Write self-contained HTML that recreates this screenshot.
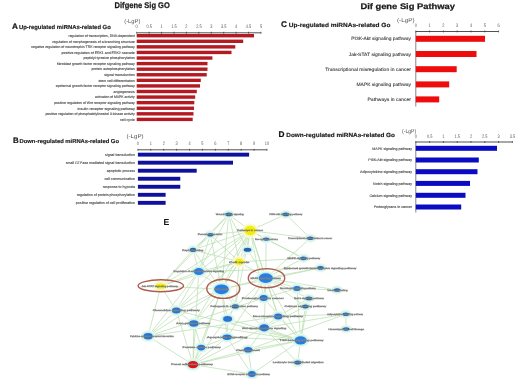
<!DOCTYPE html>
<html><head><meta charset="utf-8"><style>
html,body{margin:0;padding:0;background:#fff;overflow:hidden;width:520px;height:379px;}
svg{display:block;font-family:"Liberation Sans", sans-serif;filter:blur(0.35px);text-rendering:geometricPrecision;}
</style></head><body>
<svg width="520" height="379" viewBox="0 0 520 379">
<rect width="520" height="379" fill="#fff"/>
<text x="114.60" y="8.40" font-size="8.3" text-anchor="start" font-weight="bold" fill="#1a1a1a" textLength="55.20" lengthAdjust="spacingAndGlyphs" stroke="#1a1a1a" stroke-width="0.25">Difgene Sig GO</text>
<text x="360.40" y="9.20" font-size="8.1" text-anchor="start" font-weight="bold" fill="#1a1a1a" textLength="94.60" lengthAdjust="spacingAndGlyphs" stroke="#1a1a1a" stroke-width="0.25">Dif gene Sig Pathway</text>
<text x="12.00" y="28.80" font-size="8.184000000000001" text-anchor="start" font-weight="bold" fill="#111" stroke="#111" stroke-width="0.2">A</text>
<text x="18.90" y="28.70" font-size="5.8500000000000005" text-anchor="start" font-weight="bold" fill="#1a1a1a" textLength="91.90" lengthAdjust="spacingAndGlyphs" stroke="#1a1a1a" stroke-width="0.15">Up-regulated miRNAs-related Go</text>
<text x="124.20" y="22.80" font-size="5.6" text-anchor="start" fill="#555" textLength="16.20" lengthAdjust="spacingAndGlyphs">(-LgP)</text>
<line x1="136.70" y1="32.80" x2="261.00" y2="32.80" stroke="#333" stroke-width="0.85"/>
<line x1="136.70" y1="31.80" x2="136.70" y2="33.70" stroke="#333" stroke-width="0.7"/>
<text x="136.70" y="28.40" font-size="5.0" text-anchor="middle" fill="#5a5a5a" textLength="2.17" lengthAdjust="spacingAndGlyphs">0</text>
<line x1="149.13" y1="31.80" x2="149.13" y2="33.70" stroke="#333" stroke-width="0.7"/>
<text x="149.13" y="28.40" font-size="5.0" text-anchor="middle" fill="#5a5a5a" textLength="5.42" lengthAdjust="spacingAndGlyphs">0.5</text>
<line x1="161.56" y1="31.80" x2="161.56" y2="33.70" stroke="#333" stroke-width="0.7"/>
<text x="161.56" y="28.40" font-size="5.0" text-anchor="middle" fill="#5a5a5a" textLength="2.17" lengthAdjust="spacingAndGlyphs">1</text>
<line x1="173.99" y1="31.80" x2="173.99" y2="33.70" stroke="#333" stroke-width="0.7"/>
<text x="173.99" y="28.40" font-size="5.0" text-anchor="middle" fill="#5a5a5a" textLength="5.42" lengthAdjust="spacingAndGlyphs">1.5</text>
<line x1="186.42" y1="31.80" x2="186.42" y2="33.70" stroke="#333" stroke-width="0.7"/>
<text x="186.42" y="28.40" font-size="5.0" text-anchor="middle" fill="#5a5a5a" textLength="2.17" lengthAdjust="spacingAndGlyphs">2</text>
<line x1="198.85" y1="31.80" x2="198.85" y2="33.70" stroke="#333" stroke-width="0.7"/>
<text x="198.85" y="28.40" font-size="5.0" text-anchor="middle" fill="#5a5a5a" textLength="5.42" lengthAdjust="spacingAndGlyphs">2.5</text>
<line x1="211.28" y1="31.80" x2="211.28" y2="33.70" stroke="#333" stroke-width="0.7"/>
<text x="211.28" y="28.40" font-size="5.0" text-anchor="middle" fill="#5a5a5a" textLength="2.17" lengthAdjust="spacingAndGlyphs">3</text>
<line x1="223.71" y1="31.80" x2="223.71" y2="33.70" stroke="#333" stroke-width="0.7"/>
<text x="223.71" y="28.40" font-size="5.0" text-anchor="middle" fill="#5a5a5a" textLength="5.42" lengthAdjust="spacingAndGlyphs">3.5</text>
<line x1="236.14" y1="31.80" x2="236.14" y2="33.70" stroke="#333" stroke-width="0.7"/>
<text x="236.14" y="28.40" font-size="5.0" text-anchor="middle" fill="#5a5a5a" textLength="2.17" lengthAdjust="spacingAndGlyphs">4</text>
<line x1="248.57" y1="31.80" x2="248.57" y2="33.70" stroke="#333" stroke-width="0.7"/>
<text x="248.57" y="28.40" font-size="5.0" text-anchor="middle" fill="#5a5a5a" textLength="5.42" lengthAdjust="spacingAndGlyphs">4.5</text>
<line x1="261.00" y1="31.80" x2="261.00" y2="33.70" stroke="#333" stroke-width="0.7"/>
<text x="261.00" y="28.40" font-size="5.0" text-anchor="middle" fill="#5a5a5a" textLength="2.17" lengthAdjust="spacingAndGlyphs">5</text>
<rect x="136.70" y="34.00" width="117.30" height="3.40" fill="#b41a22"/>
<text x="134.80" y="36.97" font-size="3.52" text-anchor="end" fill="#555" textLength="66.30" lengthAdjust="spacingAndGlyphs" stroke="#555" stroke-width="0.13">regulation of transcription, DNA-dependent</text>
<rect x="136.70" y="39.58" width="106.50" height="3.40" fill="#b41a22"/>
<text x="134.80" y="42.55" font-size="3.52" text-anchor="end" fill="#555" textLength="82.50" lengthAdjust="spacingAndGlyphs" stroke="#555" stroke-width="0.13">regulation of morphogenesis of a branching structure</text>
<rect x="136.70" y="45.16" width="98.60" height="3.40" fill="#b41a22"/>
<text x="134.80" y="48.13" font-size="3.52" text-anchor="end" fill="#555" textLength="103.70" lengthAdjust="spacingAndGlyphs" stroke="#555" stroke-width="0.13">negative regulation of neurotrophin TRK receptor signaling pathway</text>
<rect x="136.70" y="50.74" width="94.80" height="3.40" fill="#b41a22"/>
<text x="134.80" y="53.71" font-size="3.52" text-anchor="end" fill="#555" textLength="73.30" lengthAdjust="spacingAndGlyphs" stroke="#555" stroke-width="0.13">positive regulation of ERK1 and ERK2 cascade</text>
<rect x="136.70" y="56.32" width="75.70" height="3.40" fill="#b41a22"/>
<text x="134.80" y="59.29" font-size="3.52" text-anchor="end" fill="#555" textLength="51.30" lengthAdjust="spacingAndGlyphs" stroke="#555" stroke-width="0.13">peptidyl-tyrosine phosphorylation</text>
<rect x="136.70" y="61.90" width="70.80" height="3.40" fill="#b41a22"/>
<text x="134.80" y="64.87" font-size="3.52" text-anchor="end" fill="#555" textLength="77.90" lengthAdjust="spacingAndGlyphs" stroke="#555" stroke-width="0.13">fibroblast growth factor receptor signaling pathway</text>
<rect x="136.70" y="67.48" width="70.80" height="3.40" fill="#b41a22"/>
<text x="134.80" y="70.45" font-size="3.52" text-anchor="end" fill="#555" textLength="43.30" lengthAdjust="spacingAndGlyphs" stroke="#555" stroke-width="0.13">protein autophosphorylation</text>
<rect x="136.70" y="73.06" width="70.00" height="3.40" fill="#b41a22"/>
<text x="134.80" y="76.03" font-size="3.52" text-anchor="end" fill="#555" textLength="30.60" lengthAdjust="spacingAndGlyphs" stroke="#555" stroke-width="0.13">signal transduction</text>
<rect x="136.70" y="78.64" width="64.10" height="3.40" fill="#b41a22"/>
<text x="134.80" y="81.61" font-size="3.52" text-anchor="end" fill="#555" textLength="36.30" lengthAdjust="spacingAndGlyphs" stroke="#555" stroke-width="0.13">stem cell differentiation</text>
<rect x="136.70" y="84.22" width="63.30" height="3.40" fill="#b41a22"/>
<text x="134.80" y="87.19" font-size="3.52" text-anchor="end" fill="#555" textLength="79.00" lengthAdjust="spacingAndGlyphs" stroke="#555" stroke-width="0.13">epidermal growth factor receptor signaling pathway</text>
<rect x="136.70" y="89.80" width="60.10" height="3.40" fill="#b41a22"/>
<text x="134.80" y="92.77" font-size="3.52" text-anchor="end" fill="#555" textLength="21.30" lengthAdjust="spacingAndGlyphs" stroke="#555" stroke-width="0.13">angiogenesis</text>
<rect x="136.70" y="95.38" width="58.50" height="3.40" fill="#b41a22"/>
<text x="134.80" y="98.35" font-size="3.52" text-anchor="end" fill="#555" textLength="39.80" lengthAdjust="spacingAndGlyphs" stroke="#555" stroke-width="0.13">activation of MAPK activity</text>
<rect x="136.70" y="100.96" width="57.60" height="3.40" fill="#b41a22"/>
<text x="134.80" y="103.93" font-size="3.52" text-anchor="end" fill="#555" textLength="80.60" lengthAdjust="spacingAndGlyphs" stroke="#555" stroke-width="0.13">positive regulation of Wnt receptor signaling pathway</text>
<rect x="136.70" y="106.54" width="57.30" height="3.40" fill="#b41a22"/>
<text x="134.80" y="109.51" font-size="3.52" text-anchor="end" fill="#555" textLength="57.30" lengthAdjust="spacingAndGlyphs" stroke="#555" stroke-width="0.13">insulin receptor signaling pathway</text>
<rect x="136.70" y="112.12" width="56.80" height="3.40" fill="#b41a22"/>
<text x="134.80" y="115.09" font-size="3.52" text-anchor="end" fill="#555" textLength="89.40" lengthAdjust="spacingAndGlyphs" stroke="#555" stroke-width="0.13">positive regulation of phosphatidylinositol 3-kinase activity</text>
<rect x="136.70" y="117.70" width="56.00" height="3.40" fill="#b41a22"/>
<text x="134.80" y="120.67" font-size="3.52" text-anchor="end" fill="#555" textLength="14.80" lengthAdjust="spacingAndGlyphs" stroke="#555" stroke-width="0.13">cell cycle</text>
<text x="13.00" y="143.00" font-size="7.92" text-anchor="start" font-weight="bold" fill="#111" stroke="#111" stroke-width="0.2">B</text>
<text x="19.50" y="142.90" font-size="5.65" text-anchor="start" font-weight="bold" fill="#1a1a1a" textLength="99.50" lengthAdjust="spacingAndGlyphs" stroke="#1a1a1a" stroke-width="0.15">Down-regulated miRNAs-related Go</text>
<text x="126.50" y="138.30" font-size="5.6" text-anchor="start" fill="#555" textLength="17.10" lengthAdjust="spacingAndGlyphs">(-LgP)</text>
<line x1="137.90" y1="149.80" x2="267.00" y2="149.80" stroke="#333" stroke-width="0.85"/>
<line x1="137.90" y1="148.80" x2="137.90" y2="150.70" stroke="#333" stroke-width="0.7"/>
<text x="137.90" y="145.10" font-size="5.0" text-anchor="middle" fill="#5a5a5a" textLength="2.17" lengthAdjust="spacingAndGlyphs">0</text>
<line x1="150.81" y1="148.80" x2="150.81" y2="150.70" stroke="#333" stroke-width="0.7"/>
<text x="150.81" y="145.10" font-size="5.0" text-anchor="middle" fill="#5a5a5a" textLength="2.17" lengthAdjust="spacingAndGlyphs">1</text>
<line x1="163.72" y1="148.80" x2="163.72" y2="150.70" stroke="#333" stroke-width="0.7"/>
<text x="163.72" y="145.10" font-size="5.0" text-anchor="middle" fill="#5a5a5a" textLength="2.17" lengthAdjust="spacingAndGlyphs">2</text>
<line x1="176.63" y1="148.80" x2="176.63" y2="150.70" stroke="#333" stroke-width="0.7"/>
<text x="176.63" y="145.10" font-size="5.0" text-anchor="middle" fill="#5a5a5a" textLength="2.17" lengthAdjust="spacingAndGlyphs">3</text>
<line x1="189.54" y1="148.80" x2="189.54" y2="150.70" stroke="#333" stroke-width="0.7"/>
<text x="189.54" y="145.10" font-size="5.0" text-anchor="middle" fill="#5a5a5a" textLength="2.17" lengthAdjust="spacingAndGlyphs">4</text>
<line x1="202.45" y1="148.80" x2="202.45" y2="150.70" stroke="#333" stroke-width="0.7"/>
<text x="202.45" y="145.10" font-size="5.0" text-anchor="middle" fill="#5a5a5a" textLength="2.17" lengthAdjust="spacingAndGlyphs">5</text>
<line x1="215.36" y1="148.80" x2="215.36" y2="150.70" stroke="#333" stroke-width="0.7"/>
<text x="215.36" y="145.10" font-size="5.0" text-anchor="middle" fill="#5a5a5a" textLength="2.17" lengthAdjust="spacingAndGlyphs">6</text>
<line x1="228.27" y1="148.80" x2="228.27" y2="150.70" stroke="#333" stroke-width="0.7"/>
<text x="228.27" y="145.10" font-size="5.0" text-anchor="middle" fill="#5a5a5a" textLength="2.17" lengthAdjust="spacingAndGlyphs">7</text>
<line x1="241.18" y1="148.80" x2="241.18" y2="150.70" stroke="#333" stroke-width="0.7"/>
<text x="241.18" y="145.10" font-size="5.0" text-anchor="middle" fill="#5a5a5a" textLength="2.17" lengthAdjust="spacingAndGlyphs">8</text>
<line x1="254.09" y1="148.80" x2="254.09" y2="150.70" stroke="#333" stroke-width="0.7"/>
<text x="254.09" y="145.10" font-size="5.0" text-anchor="middle" fill="#5a5a5a" textLength="2.17" lengthAdjust="spacingAndGlyphs">9</text>
<line x1="267.00" y1="148.80" x2="267.00" y2="150.70" stroke="#333" stroke-width="0.7"/>
<text x="267.00" y="145.10" font-size="5.0" text-anchor="middle" fill="#5a5a5a" textLength="4.34" lengthAdjust="spacingAndGlyphs">10</text>
<rect x="137.90" y="152.70" width="111.20" height="3.90" fill="#10109e"/>
<text x="135.00" y="155.95" font-size="3.6" text-anchor="end" fill="#555" stroke="#555" stroke-width="0.13">signal transduction</text>
<rect x="137.90" y="160.73" width="95.10" height="3.90" fill="#10109e"/>
<text x="135.00" y="163.98" font-size="3.6" text-anchor="end" fill="#555" stroke="#555" stroke-width="0.13">small GTPase mediated signal transduction</text>
<rect x="137.90" y="168.76" width="58.80" height="3.90" fill="#10109e"/>
<text x="135.00" y="172.01" font-size="3.6" text-anchor="end" fill="#555" stroke="#555" stroke-width="0.13">apoptotic process</text>
<rect x="137.90" y="176.79" width="42.40" height="3.90" fill="#10109e"/>
<text x="135.00" y="180.04" font-size="3.6" text-anchor="end" fill="#555" stroke="#555" stroke-width="0.13">cell communication</text>
<rect x="137.90" y="184.82" width="42.40" height="3.90" fill="#10109e"/>
<text x="135.00" y="188.07" font-size="3.6" text-anchor="end" fill="#555" stroke="#555" stroke-width="0.13">response to hypoxia</text>
<rect x="137.90" y="192.85" width="27.70" height="3.90" fill="#10109e"/>
<text x="135.00" y="196.10" font-size="3.6" text-anchor="end" fill="#555" stroke="#555" stroke-width="0.13">regulation of protein phosphorylation</text>
<rect x="137.90" y="200.88" width="27.70" height="3.90" fill="#10109e"/>
<text x="135.00" y="204.13" font-size="3.6" text-anchor="end" fill="#555" stroke="#555" stroke-width="0.13">positive regulation of cell proliferation</text>
<text x="280.90" y="27.00" font-size="8.316" text-anchor="start" font-weight="bold" fill="#111" stroke="#111" stroke-width="0.2">C</text>
<text x="288.80" y="26.90" font-size="5.95" text-anchor="start" font-weight="bold" fill="#1a1a1a" textLength="101.60" lengthAdjust="spacingAndGlyphs" stroke="#1a1a1a" stroke-width="0.15">Up-regulated miRNAs-related Go</text>
<text x="397.00" y="21.80" font-size="5.6" text-anchor="start" fill="#555" textLength="17.50" lengthAdjust="spacingAndGlyphs">(-LgP)</text>
<line x1="415.80" y1="31.50" x2="498.60" y2="31.50" stroke="#333" stroke-width="0.85"/>
<line x1="415.80" y1="30.50" x2="415.80" y2="32.40" stroke="#333" stroke-width="0.7"/>
<text x="415.80" y="27.30" font-size="5.0" text-anchor="middle" fill="#5a5a5a" textLength="2.17" lengthAdjust="spacingAndGlyphs">0</text>
<line x1="429.60" y1="30.50" x2="429.60" y2="32.40" stroke="#333" stroke-width="0.7"/>
<text x="429.60" y="27.30" font-size="5.0" text-anchor="middle" fill="#5a5a5a" textLength="2.17" lengthAdjust="spacingAndGlyphs">1</text>
<line x1="443.40" y1="30.50" x2="443.40" y2="32.40" stroke="#333" stroke-width="0.7"/>
<text x="443.40" y="27.30" font-size="5.0" text-anchor="middle" fill="#5a5a5a" textLength="2.17" lengthAdjust="spacingAndGlyphs">2</text>
<line x1="457.20" y1="30.50" x2="457.20" y2="32.40" stroke="#333" stroke-width="0.7"/>
<text x="457.20" y="27.30" font-size="5.0" text-anchor="middle" fill="#5a5a5a" textLength="2.17" lengthAdjust="spacingAndGlyphs">3</text>
<line x1="471.00" y1="30.50" x2="471.00" y2="32.40" stroke="#333" stroke-width="0.7"/>
<text x="471.00" y="27.30" font-size="5.0" text-anchor="middle" fill="#5a5a5a" textLength="2.17" lengthAdjust="spacingAndGlyphs">4</text>
<line x1="484.80" y1="30.50" x2="484.80" y2="32.40" stroke="#333" stroke-width="0.7"/>
<text x="484.80" y="27.30" font-size="5.0" text-anchor="middle" fill="#5a5a5a" textLength="2.17" lengthAdjust="spacingAndGlyphs">5</text>
<line x1="498.60" y1="30.50" x2="498.60" y2="32.40" stroke="#333" stroke-width="0.7"/>
<text x="498.60" y="27.30" font-size="5.0" text-anchor="middle" fill="#5a5a5a" textLength="2.17" lengthAdjust="spacingAndGlyphs">6</text>
<line x1="415.80" y1="31.50" x2="415.80" y2="106.50" stroke="#333" stroke-width="0.6"/>
<rect x="415.80" y="35.80" width="69.20" height="6.00" fill="#ee0c0c"/>
<text x="411.00" y="40.46" font-size="4.6" text-anchor="end" fill="#3a3a3a" textLength="59.70" lengthAdjust="spacingAndGlyphs" stroke="#3a3a3a" stroke-width="0.1">PI3K-Akt signaling pathway</text>
<rect x="415.80" y="51.00" width="60.70" height="6.00" fill="#ee0c0c"/>
<text x="411.00" y="55.66" font-size="4.6" text-anchor="end" fill="#3a3a3a" textLength="62.30" lengthAdjust="spacingAndGlyphs" stroke="#3a3a3a" stroke-width="0.1">Jak-STAT signaling pathway</text>
<rect x="415.80" y="66.20" width="40.90" height="6.00" fill="#ee0c0c"/>
<text x="411.00" y="70.86" font-size="4.6" text-anchor="end" fill="#3a3a3a" textLength="85.80" lengthAdjust="spacingAndGlyphs" stroke="#3a3a3a" stroke-width="0.1">Transcriptional misregulation in cancer</text>
<rect x="415.80" y="81.40" width="33.40" height="6.00" fill="#ee0c0c"/>
<text x="411.00" y="86.06" font-size="4.6" text-anchor="end" fill="#3a3a3a" textLength="54.50" lengthAdjust="spacingAndGlyphs" stroke="#3a3a3a" stroke-width="0.1">MAPK signaling pathway</text>
<rect x="415.80" y="96.40" width="23.40" height="6.00" fill="#ee0c0c"/>
<text x="411.00" y="101.06" font-size="4.6" text-anchor="end" fill="#3a3a3a" textLength="43.50" lengthAdjust="spacingAndGlyphs" stroke="#3a3a3a" stroke-width="0.1">Pathways in cancer</text>
<text x="278.60" y="137.20" font-size="8.316" text-anchor="start" font-weight="bold" fill="#111" stroke="#111" stroke-width="0.2">D</text>
<text x="286.30" y="137.10" font-size="5.95" text-anchor="start" font-weight="bold" fill="#1a1a1a" textLength="108.70" lengthAdjust="spacingAndGlyphs" stroke="#1a1a1a" stroke-width="0.15">Down-regulated miRNAs-related Go</text>
<text x="402.00" y="132.80" font-size="5.6" text-anchor="start" fill="#555" textLength="14.20" lengthAdjust="spacingAndGlyphs">(-LgP)</text>
<line x1="415.80" y1="142.00" x2="512.40" y2="142.00" stroke="#333" stroke-width="0.85"/>
<line x1="415.80" y1="141.00" x2="415.80" y2="142.90" stroke="#333" stroke-width="0.7"/>
<text x="415.80" y="138.10" font-size="5.0" text-anchor="middle" fill="#5a5a5a" textLength="2.17" lengthAdjust="spacingAndGlyphs">0</text>
<line x1="429.60" y1="141.00" x2="429.60" y2="142.90" stroke="#333" stroke-width="0.7"/>
<text x="429.60" y="138.10" font-size="5.0" text-anchor="middle" fill="#5a5a5a" textLength="5.42" lengthAdjust="spacingAndGlyphs">0.5</text>
<line x1="443.40" y1="141.00" x2="443.40" y2="142.90" stroke="#333" stroke-width="0.7"/>
<text x="443.40" y="138.10" font-size="5.0" text-anchor="middle" fill="#5a5a5a" textLength="2.17" lengthAdjust="spacingAndGlyphs">1</text>
<line x1="457.20" y1="141.00" x2="457.20" y2="142.90" stroke="#333" stroke-width="0.7"/>
<text x="457.20" y="138.10" font-size="5.0" text-anchor="middle" fill="#5a5a5a" textLength="5.42" lengthAdjust="spacingAndGlyphs">1.5</text>
<line x1="471.00" y1="141.00" x2="471.00" y2="142.90" stroke="#333" stroke-width="0.7"/>
<text x="471.00" y="138.10" font-size="5.0" text-anchor="middle" fill="#5a5a5a" textLength="2.17" lengthAdjust="spacingAndGlyphs">2</text>
<line x1="484.80" y1="141.00" x2="484.80" y2="142.90" stroke="#333" stroke-width="0.7"/>
<text x="484.80" y="138.10" font-size="5.0" text-anchor="middle" fill="#5a5a5a" textLength="5.42" lengthAdjust="spacingAndGlyphs">2.5</text>
<line x1="498.60" y1="141.00" x2="498.60" y2="142.90" stroke="#333" stroke-width="0.7"/>
<text x="498.60" y="138.10" font-size="5.0" text-anchor="middle" fill="#5a5a5a" textLength="2.17" lengthAdjust="spacingAndGlyphs">3</text>
<line x1="512.40" y1="141.00" x2="512.40" y2="142.90" stroke="#333" stroke-width="0.7"/>
<text x="512.40" y="138.10" font-size="5.0" text-anchor="middle" fill="#5a5a5a" textLength="5.42" lengthAdjust="spacingAndGlyphs">3.5</text>
<line x1="415.80" y1="142.00" x2="415.80" y2="212.50" stroke="#333" stroke-width="0.6"/>
<rect x="415.80" y="145.80" width="81.20" height="5.00" fill="#0b0bc4"/>
<text x="412.00" y="149.60" font-size="3.6" text-anchor="end" fill="#555" stroke="#555" stroke-width="0.13">MAPK signaling pathway</text>
<rect x="415.80" y="157.50" width="63.00" height="5.00" fill="#0b0bc4"/>
<text x="412.00" y="161.30" font-size="3.6" text-anchor="end" fill="#555" stroke="#555" stroke-width="0.13">PI3K-Akt signaling pathway</text>
<rect x="415.80" y="169.20" width="61.70" height="5.00" fill="#0b0bc4"/>
<text x="412.00" y="173.00" font-size="3.6" text-anchor="end" fill="#555" stroke="#555" stroke-width="0.13">Adipocytokine signaling pathway</text>
<rect x="415.80" y="180.90" width="54.20" height="5.00" fill="#0b0bc4"/>
<text x="412.00" y="184.70" font-size="3.6" text-anchor="end" fill="#555" stroke="#555" stroke-width="0.13">Notch signaling pathway</text>
<rect x="415.80" y="192.80" width="49.70" height="5.00" fill="#0b0bc4"/>
<text x="412.00" y="196.60" font-size="3.6" text-anchor="end" fill="#555" stroke="#555" stroke-width="0.13">Calcium signaling pathway</text>
<rect x="415.80" y="204.50" width="45.40" height="5.00" fill="#0b0bc4"/>
<text x="412.00" y="208.30" font-size="3.6" text-anchor="end" fill="#555" stroke="#555" stroke-width="0.13">Proteoglycans in cancer</text>
<text x="163.60" y="225.00" font-size="8.7" text-anchor="start" font-weight="bold" fill="#111">E</text>
<g stroke="#addaa4" stroke-width="0.75" opacity="0.85">
<line x1="250.2" y1="230.6" x2="228.8" y2="214.4"/>
<line x1="250.2" y1="230.6" x2="285.8" y2="214.4"/>
<line x1="250.2" y1="230.6" x2="210.3" y2="234.7"/>
<line x1="250.2" y1="230.6" x2="266.1" y2="239.1"/>
<line x1="250.2" y1="230.6" x2="193.0" y2="249.9"/>
<line x1="250.2" y1="230.6" x2="247.5" y2="249.7"/>
<line x1="250.2" y1="230.6" x2="239.3" y2="261.8"/>
<line x1="250.2" y1="230.6" x2="198.8" y2="271.6"/>
<line x1="250.2" y1="230.6" x2="265.8" y2="278.1"/>
<line x1="250.2" y1="230.6" x2="160.8" y2="286.0"/>
<line x1="250.2" y1="230.6" x2="221.5" y2="289.3"/>
<line x1="250.2" y1="230.6" x2="263.7" y2="298.0"/>
<line x1="250.2" y1="230.6" x2="176.3" y2="310.6"/>
<line x1="250.2" y1="230.6" x2="303.5" y2="258.3"/>
<line x1="250.2" y1="230.6" x2="310.3" y2="238.2"/>
<line x1="250.2" y1="230.6" x2="278.2" y2="316.4"/>
<line x1="265.8" y1="278.1" x2="266.1" y2="239.1"/>
<line x1="265.8" y1="278.1" x2="310.3" y2="238.2"/>
<line x1="265.8" y1="278.1" x2="239.3" y2="261.8"/>
<line x1="265.8" y1="278.1" x2="303.5" y2="258.3"/>
<line x1="265.8" y1="278.1" x2="320.5" y2="267.9"/>
<line x1="265.8" y1="278.1" x2="297.0" y2="288.4"/>
<line x1="265.8" y1="278.1" x2="263.7" y2="298.0"/>
<line x1="265.8" y1="278.1" x2="308.9" y2="298.4"/>
<line x1="265.8" y1="278.1" x2="305.4" y2="306.5"/>
<line x1="265.8" y1="278.1" x2="278.2" y2="316.4"/>
<line x1="265.8" y1="278.1" x2="264.2" y2="327.8"/>
<line x1="265.8" y1="278.1" x2="300.6" y2="340.4"/>
<line x1="265.8" y1="278.1" x2="221.5" y2="289.3"/>
<line x1="265.8" y1="278.1" x2="247.5" y2="249.7"/>
<line x1="265.8" y1="278.1" x2="337.1" y2="290.0"/>
<line x1="265.8" y1="278.1" x2="235.3" y2="306.4"/>
<line x1="265.8" y1="278.1" x2="227.1" y2="337.3"/>
<line x1="221.5" y1="289.3" x2="198.8" y2="271.6"/>
<line x1="221.5" y1="289.3" x2="160.8" y2="286.0"/>
<line x1="221.5" y1="289.3" x2="239.3" y2="261.8"/>
<line x1="221.5" y1="289.3" x2="235.3" y2="306.4"/>
<line x1="221.5" y1="289.3" x2="176.3" y2="310.6"/>
<line x1="221.5" y1="289.3" x2="227.6" y2="318.9"/>
<line x1="221.5" y1="289.3" x2="193.8" y2="323.5"/>
<line x1="221.5" y1="289.3" x2="264.2" y2="327.8"/>
<line x1="221.5" y1="289.3" x2="227.1" y2="337.3"/>
<line x1="221.5" y1="289.3" x2="201.2" y2="347.6"/>
<line x1="221.5" y1="289.3" x2="193.0" y2="364.6"/>
<line x1="221.5" y1="289.3" x2="210.3" y2="234.7"/>
<line x1="221.5" y1="289.3" x2="193.0" y2="249.9"/>
<line x1="221.5" y1="289.3" x2="228.8" y2="214.4"/>
<line x1="221.5" y1="289.3" x2="247.5" y2="249.7"/>
<line x1="300.6" y1="340.4" x2="278.2" y2="316.4"/>
<line x1="300.6" y1="340.4" x2="264.2" y2="327.8"/>
<line x1="300.6" y1="340.4" x2="297.7" y2="362.6"/>
<line x1="300.6" y1="340.4" x2="251.9" y2="374.1"/>
<line x1="300.6" y1="340.4" x2="308.9" y2="298.4"/>
<line x1="300.6" y1="340.4" x2="305.4" y2="306.5"/>
<line x1="300.6" y1="340.4" x2="297.0" y2="288.4"/>
<line x1="300.6" y1="340.4" x2="248.1" y2="349.8"/>
<line x1="300.6" y1="340.4" x2="227.6" y2="318.9"/>
<line x1="300.6" y1="340.4" x2="227.1" y2="337.3"/>
<line x1="300.6" y1="340.4" x2="193.0" y2="364.6"/>
<line x1="300.6" y1="340.4" x2="193.8" y2="323.5"/>
<line x1="300.6" y1="340.4" x2="263.7" y2="298.0"/>
<line x1="300.6" y1="340.4" x2="176.3" y2="310.6"/>
<line x1="193.0" y1="364.6" x2="148.1" y2="336.2"/>
<line x1="193.0" y1="364.6" x2="201.2" y2="347.6"/>
<line x1="193.0" y1="364.6" x2="227.1" y2="337.3"/>
<line x1="193.0" y1="364.6" x2="193.8" y2="323.5"/>
<line x1="193.0" y1="364.6" x2="176.3" y2="310.6"/>
<line x1="193.0" y1="364.6" x2="198.8" y2="271.6"/>
<line x1="193.0" y1="364.6" x2="251.9" y2="374.1"/>
<line x1="193.0" y1="364.6" x2="248.1" y2="349.8"/>
<line x1="193.0" y1="364.6" x2="264.2" y2="327.8"/>
<line x1="193.0" y1="364.6" x2="235.3" y2="306.4"/>
<line x1="148.1" y1="336.2" x2="176.3" y2="310.6"/>
<line x1="148.1" y1="336.2" x2="198.8" y2="271.6"/>
<line x1="148.1" y1="336.2" x2="160.8" y2="286.0"/>
<line x1="148.1" y1="336.2" x2="221.5" y2="289.3"/>
<line x1="148.1" y1="336.2" x2="278.2" y2="316.4"/>
<line x1="148.1" y1="336.2" x2="263.7" y2="298.0"/>
<line x1="345.8" y1="314.2" x2="346.1" y2="329.0"/>
<line x1="228.8" y1="214.4" x2="210.3" y2="234.7"/>
<line x1="228.8" y1="214.4" x2="193.0" y2="249.9"/>
<line x1="228.8" y1="214.4" x2="239.3" y2="261.8"/>
<line x1="285.8" y1="214.4" x2="310.3" y2="238.2"/>
<line x1="198.8" y1="271.6" x2="176.3" y2="310.6"/>
<line x1="198.8" y1="271.6" x2="160.8" y2="286.0"/>
<line x1="198.8" y1="271.6" x2="210.3" y2="234.7"/>
<line x1="198.8" y1="271.6" x2="193.0" y2="249.9"/>
<line x1="160.8" y1="286.0" x2="176.3" y2="310.6"/>
<line x1="193.0" y1="249.9" x2="210.3" y2="234.7"/>
<line x1="239.3" y1="261.8" x2="198.8" y2="271.6"/>
<line x1="239.3" y1="261.8" x2="235.3" y2="306.4"/>
<line x1="266.1" y1="239.1" x2="303.5" y2="258.3"/>
<line x1="251.9" y1="374.1" x2="248.1" y2="349.8"/>
<line x1="251.9" y1="374.1" x2="227.1" y2="337.3"/>
<line x1="201.2" y1="347.6" x2="193.8" y2="323.5"/>
<line x1="201.2" y1="347.6" x2="227.1" y2="337.3"/>
<line x1="248.1" y1="349.8" x2="264.2" y2="327.8"/>
<line x1="297.7" y1="362.6" x2="264.2" y2="327.8"/>
<line x1="305.4" y1="306.5" x2="264.2" y2="327.8"/>
<line x1="308.9" y1="298.4" x2="278.2" y2="316.4"/>
<line x1="235.3" y1="306.4" x2="227.6" y2="318.9"/>
<line x1="227.6" y1="318.9" x2="227.1" y2="337.3"/>
<line x1="278.2" y1="316.4" x2="264.2" y2="327.8"/>
<line x1="297.0" y1="288.4" x2="263.7" y2="298.0"/>
<line x1="176.3" y1="310.6" x2="193.8" y2="323.5"/>
<line x1="193.0" y1="249.9" x2="160.8" y2="286.0"/>
<line x1="210.3" y1="234.7" x2="239.3" y2="261.8"/>
<line x1="228.8" y1="214.4" x2="247.5" y2="249.7"/>
<line x1="239.3" y1="261.8" x2="303.5" y2="258.3"/>
<line x1="320.5" y1="267.9" x2="221.5" y2="289.3"/>
<line x1="320.5" y1="267.9" x2="198.8" y2="271.6"/>
<line x1="345.8" y1="314.2" x2="278.2" y2="316.4"/>
<line x1="345.8" y1="314.2" x2="248.1" y2="349.8"/>
<line x1="345.8" y1="314.2" x2="264.2" y2="327.8"/>
<line x1="337.1" y1="290.0" x2="297.0" y2="288.4"/>
<line x1="193.0" y1="249.9" x2="239.3" y2="261.8"/>
<line x1="210.3" y1="234.7" x2="160.8" y2="286.0"/>
<line x1="228.8" y1="214.4" x2="198.8" y2="271.6"/>
<line x1="250.2" y1="230.6" x2="235.3" y2="306.4"/>
<line x1="250.2" y1="230.6" x2="193.8" y2="323.5"/>
<line x1="160.8" y1="286.0" x2="239.3" y2="261.8"/>
<line x1="176.3" y1="310.6" x2="239.3" y2="261.8"/>
</g>
<ellipse cx="228.8" cy="214.4" rx="6.4" ry="4.6" fill="#eef9e6"/>
<ellipse cx="285.8" cy="214.4" rx="6.4" ry="4.6" fill="#eef9e6"/>
<ellipse cx="250.2" cy="230.6" rx="8.7" ry="7.3999999999999995" fill="#fbfbe0"/>
<ellipse cx="210.3" cy="234.7" rx="6.1" ry="4.6" fill="#eef9e6"/>
<ellipse cx="266.1" cy="239.1" rx="6.2" ry="4.5" fill="#eef9e6"/>
<ellipse cx="310.3" cy="238.2" rx="6.3" ry="4.6" fill="#eef9e6"/>
<ellipse cx="193.0" cy="249.9" rx="6.2" ry="4.9" fill="#eef9e6"/>
<ellipse cx="247.5" cy="249.7" rx="6.8" ry="4.8" fill="#eef9e6"/>
<ellipse cx="239.3" cy="261.8" rx="7.2" ry="5.8" fill="#fbfbe0"/>
<ellipse cx="303.5" cy="258.3" rx="6.3" ry="4.699999999999999" fill="#eef9e6"/>
<ellipse cx="198.8" cy="271.6" rx="8.1" ry="6.3" fill="#eef9e6"/>
<ellipse cx="320.5" cy="267.9" rx="6.3" ry="4.6" fill="#eef9e6"/>
<ellipse cx="265.8" cy="278.1" rx="10.1" ry="7.7" fill="#eef9e6"/>
<ellipse cx="160.8" cy="286.0" rx="7.8" ry="5.4" fill="#fbfbe0"/>
<ellipse cx="221.5" cy="289.3" rx="10.2" ry="7.7" fill="#eef9e6"/>
<ellipse cx="297.0" cy="288.4" rx="6.8" ry="5.3" fill="#eef9e6"/>
<ellipse cx="337.1" cy="290.0" rx="6.2" ry="4.6" fill="#eef9e6"/>
<ellipse cx="263.7" cy="298.0" rx="7.1" ry="5.8" fill="#eef9e6"/>
<ellipse cx="308.9" cy="298.4" rx="6.3" ry="4.699999999999999" fill="#eef9e6"/>
<ellipse cx="235.3" cy="306.4" rx="6.5" ry="5.0" fill="#eef9e6"/>
<ellipse cx="305.4" cy="306.5" rx="6.3" ry="4.699999999999999" fill="#eef9e6"/>
<ellipse cx="176.3" cy="310.6" rx="7.4" ry="5.8" fill="#eef9e6"/>
<ellipse cx="345.8" cy="314.2" rx="6.3" ry="4.6" fill="#eef9e6"/>
<ellipse cx="278.2" cy="316.4" rx="7.2" ry="5.8" fill="#eef9e6"/>
<ellipse cx="227.6" cy="318.9" rx="7.5" ry="5.6" fill="#eef9e6"/>
<ellipse cx="193.8" cy="323.5" rx="7.6" ry="6.0" fill="#eef9e6"/>
<ellipse cx="264.2" cy="327.8" rx="8.0" ry="6.4" fill="#eef9e6"/>
<ellipse cx="346.1" cy="329.0" rx="6.3" ry="4.6" fill="#eef9e6"/>
<ellipse cx="148.1" cy="336.2" rx="7.6" ry="6.0" fill="#eef9e6"/>
<ellipse cx="227.1" cy="337.3" rx="7.6" ry="5.5" fill="#eef9e6"/>
<ellipse cx="300.6" cy="340.4" rx="9.0" ry="6.8999999999999995" fill="#eef9e6"/>
<ellipse cx="201.2" cy="347.6" rx="6.9" ry="5.6" fill="#eef9e6"/>
<ellipse cx="248.1" cy="349.8" rx="7.2" ry="5.6" fill="#eef9e6"/>
<ellipse cx="297.7" cy="362.6" rx="6.5" ry="4.8" fill="#eef9e6"/>
<ellipse cx="193.0" cy="364.6" rx="8.2" ry="6.4" fill="#eef9e6"/>
<ellipse cx="251.9" cy="374.1" rx="6.9" ry="5.8" fill="#eef9e6"/>
<ellipse cx="228.8" cy="214.4" rx="5.0" ry="3.3" fill="#c6f1f6"/>
<ellipse cx="285.8" cy="214.4" rx="5.0" ry="3.3" fill="#c6f1f6"/>
<ellipse cx="250.2" cy="230.6" rx="7.300000000000001" ry="6.1" fill="#f6f6b0"/>
<ellipse cx="210.3" cy="234.7" rx="4.7" ry="3.3" fill="#c6f1f6"/>
<ellipse cx="266.1" cy="239.1" rx="4.800000000000001" ry="3.2" fill="#c6f1f6"/>
<ellipse cx="310.3" cy="238.2" rx="4.9" ry="3.3" fill="#c6f1f6"/>
<ellipse cx="193.0" cy="249.9" rx="4.800000000000001" ry="3.6" fill="#c6f1f6"/>
<ellipse cx="247.5" cy="249.7" rx="5.4" ry="3.5" fill="#c6f1f6"/>
<ellipse cx="239.3" cy="261.8" rx="5.800000000000001" ry="4.5" fill="#f6f6b0"/>
<ellipse cx="303.5" cy="258.3" rx="4.9" ry="3.4" fill="#c6f1f6"/>
<ellipse cx="198.8" cy="271.6" rx="6.699999999999999" ry="5.0" fill="#c6f1f6"/>
<ellipse cx="320.5" cy="267.9" rx="4.9" ry="3.3" fill="#c6f1f6"/>
<ellipse cx="265.8" cy="278.1" rx="8.7" ry="6.4" fill="#c6f1f6"/>
<ellipse cx="160.8" cy="286.0" rx="6.4" ry="4.1" fill="#f6f6b0"/>
<ellipse cx="221.5" cy="289.3" rx="8.8" ry="6.4" fill="#c6f1f6"/>
<ellipse cx="297.0" cy="288.4" rx="5.4" ry="4.0" fill="#c6f1f6"/>
<ellipse cx="337.1" cy="290.0" rx="4.800000000000001" ry="3.3" fill="#c6f1f6"/>
<ellipse cx="263.7" cy="298.0" rx="5.699999999999999" ry="4.5" fill="#c6f1f6"/>
<ellipse cx="308.9" cy="298.4" rx="4.9" ry="3.4" fill="#c6f1f6"/>
<ellipse cx="235.3" cy="306.4" rx="5.1" ry="3.7" fill="#c6f1f6"/>
<ellipse cx="305.4" cy="306.5" rx="4.9" ry="3.4" fill="#c6f1f6"/>
<ellipse cx="176.3" cy="310.6" rx="6.0" ry="4.5" fill="#c6f1f6"/>
<ellipse cx="345.8" cy="314.2" rx="4.9" ry="3.3" fill="#c6f1f6"/>
<ellipse cx="278.2" cy="316.4" rx="5.800000000000001" ry="4.5" fill="#c6f1f6"/>
<ellipse cx="227.6" cy="318.9" rx="6.1" ry="4.3" fill="#c6f1f6"/>
<ellipse cx="193.8" cy="323.5" rx="6.199999999999999" ry="4.7" fill="#c6f1f6"/>
<ellipse cx="264.2" cy="327.8" rx="6.6" ry="5.1" fill="#c6f1f6"/>
<ellipse cx="346.1" cy="329.0" rx="4.9" ry="3.3" fill="#c6f1f6"/>
<ellipse cx="148.1" cy="336.2" rx="6.199999999999999" ry="4.7" fill="#c6f1f6"/>
<ellipse cx="227.1" cy="337.3" rx="6.199999999999999" ry="4.2" fill="#c6f1f6"/>
<ellipse cx="300.6" cy="340.4" rx="7.6" ry="5.6" fill="#c6f1f6"/>
<ellipse cx="201.2" cy="347.6" rx="5.5" ry="4.3" fill="#c6f1f6"/>
<ellipse cx="248.1" cy="349.8" rx="5.800000000000001" ry="4.3" fill="#c6f1f6"/>
<ellipse cx="297.7" cy="362.6" rx="5.1" ry="3.5" fill="#c6f1f6"/>
<ellipse cx="193.0" cy="364.6" rx="6.800000000000001" ry="5.1" fill="#c6f1f6"/>
<ellipse cx="251.9" cy="374.1" rx="5.5" ry="4.5" fill="#c6f1f6"/>
<ellipse cx="160.8" cy="285.8" rx="22.7" ry="6.0" fill="none" stroke="#b05a50" stroke-width="1.4"/>
<ellipse cx="223.3" cy="288.8" rx="16.5" ry="9.6" fill="none" stroke="#b05a50" stroke-width="1.4"/>
<ellipse cx="266.5" cy="278.2" rx="18.2" ry="9.6" fill="none" stroke="#b05a50" stroke-width="1.4"/>
<ellipse cx="228.8" cy="214.4" rx="3.4" ry="1.8" fill="#2862a6"/>
<ellipse cx="285.8" cy="214.4" rx="3.4" ry="1.8" fill="#2862a6"/>
<ellipse cx="250.2" cy="230.6" rx="5.7" ry="4.6" fill="#f3ef00"/>
<ellipse cx="210.3" cy="234.7" rx="3.1" ry="1.8" fill="#2862a6"/>
<ellipse cx="266.1" cy="239.1" rx="3.2" ry="1.7" fill="#2862a6"/>
<ellipse cx="310.3" cy="238.2" rx="3.3" ry="1.8" fill="#2862a6"/>
<ellipse cx="193.0" cy="249.9" rx="3.2" ry="2.1" fill="#2862a6"/>
<ellipse cx="247.5" cy="249.7" rx="3.8" ry="2.0" fill="#2862a6"/>
<ellipse cx="239.3" cy="261.8" rx="4.2" ry="3.0" fill="#f3ef00"/>
<ellipse cx="303.5" cy="258.3" rx="3.3" ry="1.9" fill="#2862a6"/>
<ellipse cx="198.8" cy="271.6" rx="5.1" ry="3.5" fill="#2a7de0"/>
<ellipse cx="320.5" cy="267.9" rx="3.3" ry="1.8" fill="#2862a6"/>
<ellipse cx="265.8" cy="278.1" rx="7.1" ry="4.9" fill="#2a7de0"/>
<ellipse cx="160.8" cy="286.0" rx="4.8" ry="2.6" fill="#f3ef00"/>
<ellipse cx="221.5" cy="289.3" rx="7.2" ry="4.9" fill="#2a7de0"/>
<ellipse cx="297.0" cy="288.4" rx="3.8" ry="2.5" fill="#2a74d0"/>
<ellipse cx="337.1" cy="290.0" rx="3.2" ry="1.8" fill="#2862a6"/>
<ellipse cx="263.7" cy="298.0" rx="4.1" ry="3.0" fill="#2a74d0"/>
<ellipse cx="308.9" cy="298.4" rx="3.3" ry="1.9" fill="#2862a6"/>
<ellipse cx="235.3" cy="306.4" rx="3.5" ry="2.2" fill="#2862a6"/>
<ellipse cx="305.4" cy="306.5" rx="3.3" ry="1.9" fill="#2862a6"/>
<ellipse cx="176.3" cy="310.6" rx="4.4" ry="3.0" fill="#2a74d0"/>
<ellipse cx="345.8" cy="314.2" rx="3.3" ry="1.8" fill="#2862a6"/>
<ellipse cx="278.2" cy="316.4" rx="4.2" ry="3.0" fill="#2a74d0"/>
<ellipse cx="227.6" cy="318.9" rx="4.5" ry="2.8" fill="#2a74d0"/>
<ellipse cx="193.8" cy="323.5" rx="4.6" ry="3.2" fill="#2a74d0"/>
<ellipse cx="264.2" cy="327.8" rx="5.0" ry="3.6" fill="#2a74d0"/>
<ellipse cx="346.1" cy="329.0" rx="3.3" ry="1.8" fill="#2862a6"/>
<ellipse cx="148.1" cy="336.2" rx="4.6" ry="3.2" fill="#2a74d0"/>
<ellipse cx="227.1" cy="337.3" rx="4.6" ry="2.7" fill="#2a74d0"/>
<ellipse cx="300.6" cy="340.4" rx="6.0" ry="4.1" fill="#2a7de0"/>
<ellipse cx="201.2" cy="347.6" rx="3.9" ry="2.8" fill="#2a74d0"/>
<ellipse cx="248.1" cy="349.8" rx="4.2" ry="2.8" fill="#2a74d0"/>
<ellipse cx="297.7" cy="362.6" rx="3.5" ry="2.0" fill="#2862a6"/>
<ellipse cx="193.0" cy="364.6" rx="5.2" ry="3.6" fill="#e01010"/>
<ellipse cx="251.9" cy="374.1" rx="3.9" ry="3.0" fill="#2a74d0"/>
<text x="215.80" y="215.15" font-size="2.2" text-anchor="start" fill="#808080" textLength="28.00" lengthAdjust="spacingAndGlyphs" stroke="#808080" stroke-width="0.3">Wound healing signaling</text>
<text x="269.50" y="215.15" font-size="2.2" text-anchor="start" fill="#808080" textLength="32.80" lengthAdjust="spacingAndGlyphs" stroke="#808080" stroke-width="0.3">PI3K-Akt signaling pathway</text>
<text x="237.20" y="231.35" font-size="2.2" text-anchor="start" fill="#808080" textLength="25.70" lengthAdjust="spacingAndGlyphs" stroke="#808080" stroke-width="0.3">Pathways in cancer</text>
<text x="197.70" y="235.45" font-size="2.2" text-anchor="start" fill="#808080" textLength="24.70" lengthAdjust="spacingAndGlyphs" stroke="#808080" stroke-width="0.3">Focal adhesion</text>
<text x="254.90" y="239.85" font-size="2.2" text-anchor="start" fill="#808080" textLength="22.90" lengthAdjust="spacingAndGlyphs" stroke="#808080" stroke-width="0.3">Ras signaling pathway</text>
<text x="288.00" y="238.95" font-size="2.2" text-anchor="start" fill="#808080" textLength="44.00" lengthAdjust="spacingAndGlyphs" stroke="#808080" stroke-width="0.3">Transcriptional misregulation in cancer</text>
<text x="182.20" y="250.65" font-size="2.2" text-anchor="start" fill="#808080" textLength="21.20" lengthAdjust="spacingAndGlyphs" stroke="#808080" stroke-width="0.3">Rap1 signaling</text>
<text x="229.00" y="262.55" font-size="2.2" text-anchor="start" fill="#808080" textLength="20.50" lengthAdjust="spacingAndGlyphs" stroke="#808080" stroke-width="0.3">Cell cycle</text>
<text x="287.50" y="259.05" font-size="2.2" text-anchor="start" fill="#808080" textLength="32.80" lengthAdjust="spacingAndGlyphs" stroke="#808080" stroke-width="0.3">MAPK signaling pathway</text>
<text x="173.50" y="272.35" font-size="2.2" text-anchor="start" fill="#808080" textLength="50.50" lengthAdjust="spacingAndGlyphs" stroke="#808080" stroke-width="0.3">Regulation of actin cytoskeleton signaling</text>
<text x="283.70" y="268.65" font-size="2.2" text-anchor="start" fill="#808080" textLength="72.60" lengthAdjust="spacingAndGlyphs" stroke="#808080" stroke-width="0.3">Epidermal growth factor receptor signaling pathway</text>
<text x="250.50" y="278.85" font-size="2.2" text-anchor="start" fill="#808080" textLength="30.50" lengthAdjust="spacingAndGlyphs" stroke="#808080" stroke-width="0.3">MAPK signaling pathway</text>
<text x="141.50" y="286.75" font-size="2.2" text-anchor="start" fill="#808080" textLength="36.50" lengthAdjust="spacingAndGlyphs" stroke="#808080" stroke-width="0.3">Jak-STAT signaling pathway</text>
<text x="214.00" y="290.05" font-size="2.2" text-anchor="start" fill="#808080" textLength="15.00" lengthAdjust="spacingAndGlyphs" stroke="#808080" stroke-width="0.3">Cell cycle</text>
<text x="280.00" y="289.15" font-size="2.2" text-anchor="start" fill="#808080" textLength="35.80" lengthAdjust="spacingAndGlyphs" stroke="#808080" stroke-width="0.3">Neurotrophin signaling pathway</text>
<text x="327.50" y="290.75" font-size="2.2" text-anchor="start" fill="#808080" textLength="20.00" lengthAdjust="spacingAndGlyphs" stroke="#808080" stroke-width="0.3">Insulin signaling</text>
<text x="241.80" y="298.75" font-size="2.2" text-anchor="start" fill="#808080" textLength="42.00" lengthAdjust="spacingAndGlyphs" stroke="#808080" stroke-width="0.3">Proteoglycans in cancer</text>
<text x="294.00" y="299.15" font-size="2.2" text-anchor="start" fill="#808080" textLength="29.80" lengthAdjust="spacingAndGlyphs" stroke="#808080" stroke-width="0.3">Notch signaling pathway</text>
<text x="210.60" y="307.15" font-size="2.2" text-anchor="start" fill="#808080" textLength="47.40" lengthAdjust="spacingAndGlyphs" stroke="#808080" stroke-width="0.3">Pathogenic E. coli infection pathway</text>
<text x="284.60" y="307.25" font-size="2.2" text-anchor="start" fill="#808080" textLength="41.60" lengthAdjust="spacingAndGlyphs" stroke="#808080" stroke-width="0.3">Calcium signaling pathway</text>
<text x="152.80" y="311.35" font-size="2.2" text-anchor="start" fill="#808080" textLength="47.10" lengthAdjust="spacingAndGlyphs" stroke="#808080" stroke-width="0.3">Chemokine signaling pathway</text>
<text x="327.30" y="314.95" font-size="2.2" text-anchor="start" fill="#808080" textLength="35.80" lengthAdjust="spacingAndGlyphs" stroke="#808080" stroke-width="0.3">Adipocytokine signaling pathway</text>
<text x="253.00" y="317.15" font-size="2.2" text-anchor="start" fill="#808080" textLength="50.00" lengthAdjust="spacingAndGlyphs" stroke="#808080" stroke-width="0.3">Neurotrophin signaling pathway</text>
<text x="176.30" y="324.25" font-size="2.2" text-anchor="start" fill="#808080" textLength="34.10" lengthAdjust="spacingAndGlyphs" stroke="#808080" stroke-width="0.3">Axon guidance pathway</text>
<text x="242.00" y="328.55" font-size="2.2" text-anchor="start" fill="#808080" textLength="44.20" lengthAdjust="spacingAndGlyphs" stroke="#808080" stroke-width="0.3">Wnt signaling pathway signaling</text>
<text x="328.50" y="329.75" font-size="2.2" text-anchor="start" fill="#808080" textLength="35.70" lengthAdjust="spacingAndGlyphs" stroke="#808080" stroke-width="0.3">Hematopoietic cell lineage</text>
<text x="130.00" y="336.95" font-size="2.2" text-anchor="start" fill="#808080" textLength="43.60" lengthAdjust="spacingAndGlyphs" stroke="#808080" stroke-width="0.3">Cytokine-cytokine receptor interaction</text>
<text x="206.80" y="338.05" font-size="2.2" text-anchor="start" fill="#808080" textLength="40.70" lengthAdjust="spacingAndGlyphs" stroke="#808080" stroke-width="0.3">Apoptosis signaling</text>
<text x="279.60" y="341.15" font-size="2.2" text-anchor="start" fill="#808080" textLength="43.90" lengthAdjust="spacingAndGlyphs" stroke="#808080" stroke-width="0.3">TGF-beta signaling pathway</text>
<text x="182.60" y="348.35" font-size="2.2" text-anchor="start" fill="#808080" textLength="38.10" lengthAdjust="spacingAndGlyphs" stroke="#808080" stroke-width="0.3">Prostate cancer pathway</text>
<text x="236.20" y="350.55" font-size="2.2" text-anchor="start" fill="#808080" textLength="23.40" lengthAdjust="spacingAndGlyphs" stroke="#808080" stroke-width="0.3">Osteoclast</text>
<text x="272.70" y="363.35" font-size="2.2" text-anchor="start" fill="#808080" textLength="50.80" lengthAdjust="spacingAndGlyphs" stroke="#808080" stroke-width="0.3">Leukocyte transendothelial migration</text>
<text x="171.30" y="365.35" font-size="2.2" text-anchor="start" fill="#808080" textLength="41.60" lengthAdjust="spacingAndGlyphs" stroke="#808080" stroke-width="0.3">Focal adhesion pathway</text>
<text x="227.60" y="374.85" font-size="2.2" text-anchor="start" fill="#808080" textLength="42.40" lengthAdjust="spacingAndGlyphs" stroke="#808080" stroke-width="0.3">ECM-receptor interaction pathway</text>
</svg>
</body></html>
